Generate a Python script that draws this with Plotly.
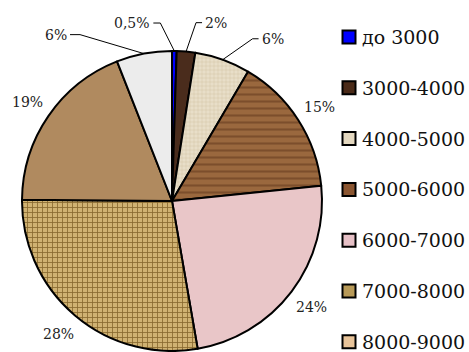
import math
import plotly.graph_objects as go

# ---------------- data ----------------
categories = ["до 3000", "3000-4000", "4000-5000", "5000-6000",
              "6000-7000", "7000-8000", "8000-9000", "свыше 9000"]
shares = [0.5, 2, 6, 15, 24, 28, 19, 6]
label_texts = ["0,5%", "2%", "6%", "15%", "24%", "28%", "19%", "6%"]
legend_count = 7  # entries visible in the legend

# ---------------- style ----------------
slice_colors = ["#0000ff", "#4a2c1c", "#e8dec8", "#9a683e",
                "#e9c6c8", "#d0b272", "#b08a5f", "#ececec"]
pattern_shapes = ["", "", "+", "-", "", "+", "", ""]
pattern_fg = ["#000000", "#000000", "#d0c2a2", "#7c4e2c",
              "#000000", "#88682f", "#000000", "#000000"]
pattern_size = [8, 8, 4, 7, 8, 5, 8, 8]
pattern_solid = [0.3, 0.3, 0.2, 0.3, 0.3, 0.3, 0.3, 0.3]
legend_colors = ["#0000ff", "#4a2a18", "#e4d8c0", "#8a5530",
                 "#e6c0c6", "#b89a58", "#e8c49a"]

W, H = 469, 352
CX, CY, R = 172, 201, 150
SERIF = "DejaVu Serif"
LABEL_FONT = dict(family=SERIF, size=14, color="#222")
LEGEND_FONT = dict(family=SERIF, size=19, color="#111")

# legend layout (px)
LEG_SQ_X, LEG_TXT_X, LEG_Y0, LEG_DY, LEG_SQ = 349, 361, 37, 50.8, 13

# leader-line labels: elbow offset from the slice edge (px) and horizontal run
leaders = {0: (-14, -28, -7), 1: (10, -29, 6), 2: (30, -21, 6), 7: (-64, -19, -10)}
outer_factor = 1.165


def px(x, y):
    return x / W, 1 - y / H


fig = go.Figure()
fig.add_trace(go.Pie(
    labels=categories, values=shares, sort=False, direction="clockwise",
    rotation=0, textinfo="none", showlegend=False, hoverinfo="label+percent",
    marker=dict(colors=slice_colors, line=dict(color="black", width=2),
                pattern=dict(shape=pattern_shapes, fgcolor=pattern_fg,
                             bgcolor=slice_colors, fillmode="replace",
                             size=pattern_size, solidity=pattern_solid)),
    domain=dict(x=[(CX - R) / W, (CX + R) / W],
                y=[1 - (CY + R) / H, 1 - (CY - R) / H]),
))

annotations = []
shapes = []

# legend
for i in range(legend_count):
    yc = LEG_Y0 + i * LEG_DY
    x0, y0 = px(LEG_SQ_X - LEG_SQ / 2, yc + LEG_SQ / 2)
    x1, y1 = px(LEG_SQ_X + LEG_SQ / 2, yc - LEG_SQ / 2)
    shapes.append(dict(type="rect", xref="paper", yref="paper",
                       x0=x0, y0=y0, x1=x1, y1=y1,
                       fillcolor=legend_colors[i],
                       line=dict(color="black", width=2)))
    tx, ty = px(LEG_TXT_X, yc)
    annotations.append(dict(x=tx, y=ty, xref="paper", yref="paper",
                            text=categories[i], showarrow=False,
                            xanchor="left", yanchor="middle",
                            font=LEGEND_FONT, borderpad=0))

# labels computed from slice angles
total = sum(shares)
cum = 0.0
for i, v in enumerate(shares):
    mid = (cum + v / 2) / total * 2 * math.pi
    cum += v
    ex = CX + R * math.sin(mid)
    ey = CY - R * math.cos(mid)
    if i in leaders:
        dx, dy, run = leaders[i]
        bx, by = ex + dx, ey + dy
        tx = bx + run
        x0, y0 = px(ex, ey)
        x1, y1 = px(bx, by)
        x2, y2 = px(tx, by)
        shapes.append(dict(type="path", xref="paper", yref="paper",
                           path=f"M {x0},{y0} L {x1},{y1} L {x2},{y2}",
                           line=dict(color="black", width=1)))
        ax_, ay_ = px(tx + (2 if run > 0 else -2), by)
        annotations.append(dict(x=ax_, y=ay_, xref="paper", yref="paper",
                                text=label_texts[i], showarrow=False,
                                xanchor="left" if run > 0 else "right",
                                yanchor="middle", font=LABEL_FONT, borderpad=0))
    else:
        lx = CX + R * outer_factor * math.sin(mid)
        ly = CY - R * outer_factor * math.cos(mid)
        ax_, ay_ = px(lx, ly)
        annotations.append(dict(x=ax_, y=ay_, xref="paper", yref="paper",
                                text=label_texts[i], showarrow=False,
                                xanchor="center", yanchor="middle",
                                font=LABEL_FONT, borderpad=0))

fig.update_layout(
    width=W, height=H, margin=dict(l=0, r=0, t=0, b=0),
    paper_bgcolor="white", plot_bgcolor="white",
    showlegend=False,
    annotations=annotations, shapes=shapes,
)

fig.write_html("out.html")
